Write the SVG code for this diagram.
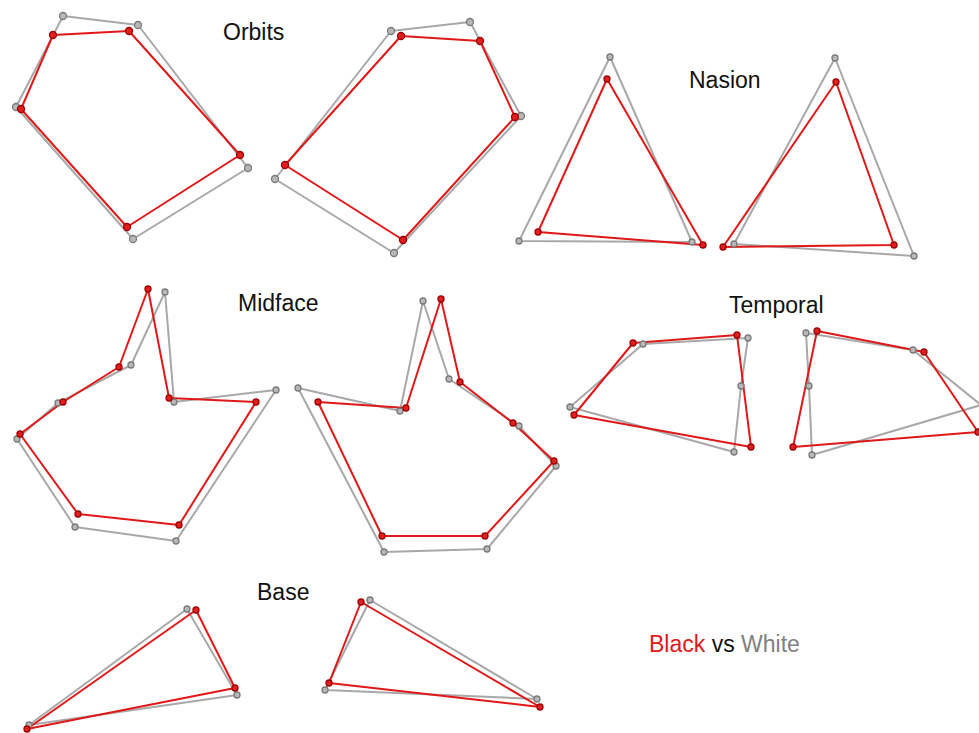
<svg xmlns="http://www.w3.org/2000/svg" width="979" height="733" viewBox="0 0 979 733">
<style>
.g{fill:none;stroke:#a8a8a8;stroke-width:2;stroke-linejoin:round}
.r{fill:none;stroke:#e01818;stroke-width:2;stroke-linejoin:round}
.gn{fill:#b8b8b8;stroke:#7a7a7a;stroke-width:1.3}
.rn{fill:#e02020;stroke:#a00000;stroke-width:1.3}
.t{font-family:"Liberation Sans",Arial,sans-serif;font-size:23px;fill:#111}
</style>
<rect width="979" height="733" fill="#fff"/>
<g id="connectors">
<polygon class="g" points="63,16 138,25 248,168 133,239 16,107"/>
<polygon class="r" points="53,35 129,31 240,155 127,227 21,109"/>
<polygon class="g" points="391,31 470,22 521,116 394,253 275,179"/>
<polygon class="r" points="401,36 480,41 515,117 403,240 285,165"/>
<polygon class="g" points="610,57 692,242 519,241"/>
<polygon class="r" points="607,79 703,245 538,232"/>
<polygon class="g" points="835,58 914,256 734,244"/>
<polygon class="r" points="836,82 894,245 723,247"/>
<polygon class="g" points="165,292 174,402 276,390 176,541 75,527 17,439 58,403 131,365"/>
<polygon class="r" points="148,289 169,398 256,402 179,525 78,514 20,434 63,402 119,367"/>
<polygon class="g" points="423,301 449,379 519,426 556,466 487,549 384,552 298,388 400,411"/>
<polygon class="r" points="441,299 460,382 513,423 554,461 485,536 382,536 318,402 406,408"/>
<polygon class="g" points="570,407 643,344 748,338 741,386 734,452"/>
<polygon class="r" points="574,415 633,343 737,335 751,447"/>
<polygon class="g" points="806,333 913,350 981,405 812,455 809,386"/>
<polygon class="r" points="817,331 924,352 978,432 793,447"/>
<polygon class="g" points="187,609 237,695 29,725"/>
<polygon class="r" points="196,610 235,688 27,729"/>
<polygon class="g" points="370,600 537,699 325,690"/>
<polygon class="r" points="361,602 540,707 329,683"/>
</g>
<g id="orbits-left">
<circle class="gn" cx="63" cy="16" r="3.5"/><circle class="gn" cx="138" cy="25" r="3.5"/><circle class="gn" cx="248" cy="168" r="3.5"/><circle class="gn" cx="133" cy="239" r="3.5"/><circle class="gn" cx="16" cy="107" r="3.5"/>
<circle class="rn" cx="53" cy="35" r="3.5"/><circle class="rn" cx="129" cy="31" r="3.5"/><circle class="rn" cx="240" cy="155" r="3.5"/><circle class="rn" cx="127" cy="227" r="3.5"/><circle class="rn" cx="21" cy="109" r="3.5"/>
</g>
<g id="orbits-right">
<circle class="gn" cx="391" cy="31" r="3.5"/><circle class="gn" cx="470" cy="22" r="3.5"/><circle class="gn" cx="521" cy="116" r="3.5"/><circle class="gn" cx="394" cy="253" r="3.5"/><circle class="gn" cx="275" cy="179" r="3.5"/>
<circle class="rn" cx="401" cy="36" r="3.5"/><circle class="rn" cx="480" cy="41" r="3.5"/><circle class="rn" cx="515" cy="117" r="3.5"/><circle class="rn" cx="403" cy="240" r="3.5"/><circle class="rn" cx="285" cy="165" r="3.5"/>
</g>
<g id="nasion-left">
<circle class="gn" cx="610" cy="57" r="3"/><circle class="gn" cx="692" cy="242" r="3"/><circle class="gn" cx="519" cy="241" r="3"/>
<circle class="rn" cx="607" cy="79" r="3"/><circle class="rn" cx="703" cy="245" r="3"/><circle class="rn" cx="538" cy="232" r="3"/>
</g>
<g id="nasion-right">
<circle class="gn" cx="835" cy="58" r="3"/><circle class="gn" cx="914" cy="256" r="3"/><circle class="gn" cx="734" cy="244" r="3"/>
<circle class="rn" cx="836" cy="82" r="3"/><circle class="rn" cx="894" cy="245" r="3"/><circle class="rn" cx="723" cy="247" r="3"/>
</g>
<g id="midface-left">
<circle class="gn" cx="165" cy="292" r="3"/><circle class="gn" cx="174" cy="402" r="3"/><circle class="gn" cx="276" cy="390" r="3"/><circle class="gn" cx="176" cy="541" r="3"/><circle class="gn" cx="75" cy="527" r="3"/><circle class="gn" cx="17" cy="439" r="3"/><circle class="gn" cx="58" cy="403" r="3"/><circle class="gn" cx="131" cy="365" r="3"/>
<circle class="rn" cx="148" cy="289" r="3"/><circle class="rn" cx="169" cy="398" r="3"/><circle class="rn" cx="256" cy="402" r="3"/><circle class="rn" cx="179" cy="525" r="3"/><circle class="rn" cx="78" cy="514" r="3"/><circle class="rn" cx="20" cy="434" r="3"/><circle class="rn" cx="63" cy="402" r="3"/><circle class="rn" cx="119" cy="367" r="3"/>
</g>
<g id="midface-right">
<circle class="gn" cx="423" cy="301" r="3"/><circle class="gn" cx="449" cy="379" r="3"/><circle class="gn" cx="519" cy="426" r="3"/><circle class="gn" cx="556" cy="466" r="3"/><circle class="gn" cx="487" cy="549" r="3"/><circle class="gn" cx="384" cy="552" r="3"/><circle class="gn" cx="298" cy="388" r="3"/><circle class="gn" cx="400" cy="411" r="3"/>
<circle class="rn" cx="441" cy="299" r="3"/><circle class="rn" cx="460" cy="382" r="3"/><circle class="rn" cx="513" cy="423" r="3"/><circle class="rn" cx="554" cy="461" r="3"/><circle class="rn" cx="485" cy="536" r="3"/><circle class="rn" cx="382" cy="536" r="3"/><circle class="rn" cx="318" cy="402" r="3"/><circle class="rn" cx="406" cy="408" r="3"/>
</g>
<g id="temporal-left">
<circle class="gn" cx="570" cy="407" r="3"/><circle class="gn" cx="643" cy="344" r="3"/><circle class="gn" cx="748" cy="338" r="3"/><circle class="gn" cx="741" cy="386" r="3"/><circle class="gn" cx="734" cy="452" r="3"/>
<circle class="rn" cx="574" cy="415" r="3"/><circle class="rn" cx="633" cy="343" r="3"/><circle class="rn" cx="737" cy="335" r="3"/><circle class="rn" cx="751" cy="447" r="3"/>
</g>
<g id="temporal-right">
<circle class="gn" cx="806" cy="333" r="3"/><circle class="gn" cx="913" cy="350" r="3"/><circle class="gn" cx="812" cy="455" r="3"/><circle class="gn" cx="809" cy="386" r="3"/>
<circle class="rn" cx="817" cy="331" r="3"/><circle class="rn" cx="924" cy="352" r="3"/><circle class="rn" cx="978" cy="432" r="3"/><circle class="rn" cx="793" cy="447" r="3"/>
</g>
<g id="base-left">
<circle class="gn" cx="187" cy="609" r="3"/><circle class="gn" cx="237" cy="695" r="3"/><circle class="gn" cx="29" cy="725" r="3"/>
<circle class="rn" cx="196" cy="610" r="3"/><circle class="rn" cx="235" cy="688" r="3"/><circle class="rn" cx="27" cy="729" r="3"/>
</g>
<g id="base-right">
<circle class="gn" cx="370" cy="600" r="3"/><circle class="gn" cx="537" cy="699" r="3"/><circle class="gn" cx="325" cy="690" r="3"/>
<circle class="rn" cx="361" cy="602" r="3"/><circle class="rn" cx="540" cy="707" r="3"/><circle class="rn" cx="329" cy="683" r="3"/>
</g>
<g id="labels">
<text class="t" x="223" y="40">Orbits</text>
<text class="t" x="689" y="88">Nasion</text>
<text class="t" x="238" y="311">Midface</text>
<text class="t" x="729" y="313">Temporal</text>
<text class="t" x="257" y="600">Base</text>
<text class="t" x="649" y="652"><tspan fill="#e01818">Black</tspan> vs <tspan fill="#808080">White</tspan></text>
</g>
</svg>
